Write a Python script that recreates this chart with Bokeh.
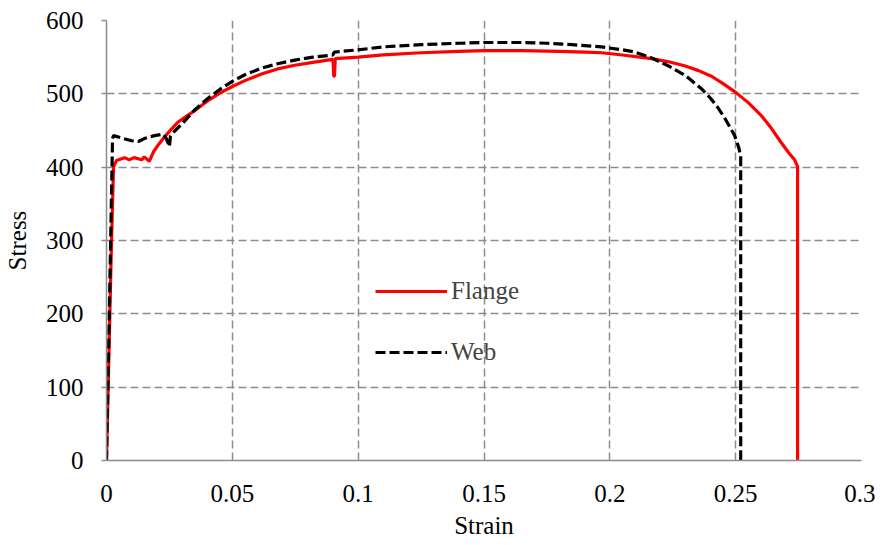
from bokeh.plotting import figure
from bokeh.models import Range1d, FixedTicker, Legend, LegendItem
from bokeh.embed import file_html
from bokeh.resources import INLINE

flange_strain = [0, 0.001, 0.002, 0.0028, 0.004, 0.0072, 0.009, 0.011, 0.014, 0.015, 0.017,
                 0.0187, 0.0207, 0.023, 0.0258, 0.0286, 0.032, 0.035, 0.04, 0.045, 0.05,
                 0.055, 0.0616, 0.068, 0.0748, 0.082, 0.09, 0.0903, 0.0906, 0.0909,
                 0.1, 0.11, 0.125, 0.14, 0.15, 0.165, 0.18, 0.19, 0.1967, 0.205, 0.2166,
                 0.223, 0.23, 0.235, 0.2404, 0.245, 0.25, 0.255, 0.26, 0.2642, 0.268,
                 0.271, 0.2734, 0.2746, 0.2746]
flange_stress = [0, 150, 300, 401, 409, 413, 410, 413, 410, 414, 408,
                 421, 431, 441, 452, 462, 470, 477, 490, 501, 510,
                 518, 527, 534, 539, 543, 547, 524, 524, 548,
                 550, 553, 556, 558, 559, 559, 558, 557, 556, 553, 548,
                 544, 538, 532, 524, 514, 502, 488, 471, 453, 434,
                 420, 410, 401, 0]

web_strain = [0, 0.001, 0.0024, 0.0028, 0.0068, 0.01, 0.0127, 0.015, 0.019, 0.0226, 0.0238,
              0.025, 0.0254, 0.027, 0.03, 0.035, 0.04, 0.045, 0.05, 0.055, 0.0616,
              0.068, 0.0748, 0.082, 0.09, 0.0905, 0.1, 0.11, 0.125, 0.14, 0.15,
              0.165, 0.175, 0.185, 0.1967, 0.205, 0.21, 0.2166, 0.2233, 0.23, 0.2364,
              0.24, 0.243, 0.246, 0.2496, 0.2512, 0.252, 0.252]
web_stress = [0, 180, 439, 443, 439, 436, 435, 439, 443, 445, 439,
              428, 442, 449, 459, 478, 493, 506, 517, 526, 535,
              541, 546, 550, 553, 557, 560, 564, 567, 569, 570,
              570, 569, 567, 564, 560, 557, 549, 538, 525, 507,
              494, 481, 465, 443, 427, 415, 0]

x_ticks = [0, 0.05, 0.1, 0.15, 0.2, 0.25, 0.3]
x_tick_labels = ["0", "0.05", "0.1", "0.15", "0.2", "0.25", "0.3"]
y_ticks = [0, 100, 200, 300, 400, 500, 600]

FONT = "'Liberation Serif', 'Times New Roman', serif"
GRAY = "#8c8c8c"

p = figure(frame_width=755, frame_height=440, output_backend="svg", toolbar_location=None,
           x_range=Range1d(0, 0.3), y_range=Range1d(0, 600),
           min_border_left=97, min_border_right=14, min_border_top=20, min_border_bottom=69)
p.outline_line_color = None
p.background_fill_color = "white"

r_f = p.line(flange_strain, flange_stress, line_color="#ff0000", line_width=3.2)
r_w = p.line(web_strain, web_stress, line_color="black", line_width=3.2, line_dash="10 4")

p.xaxis.ticker = FixedTicker(ticks=x_ticks)
p.yaxis.ticker = FixedTicker(ticks=y_ticks)
p.xaxis.major_label_overrides = {t: l for t, l in zip(x_ticks, x_tick_labels)}

for ax in (p.xaxis[0], p.yaxis[0]):
    ax.axis_line_color = GRAY
    ax.axis_line_width = 1.5
    ax.minor_tick_line_color = None
    ax.major_label_text_font = FONT
    ax.major_label_text_font_size = "25px"
    ax.major_label_text_color = "black"
    ax.axis_label_text_font = FONT
    ax.axis_label_text_font_size = "25px"
    ax.axis_label_text_font_style = "normal"
    ax.axis_label_text_color = "black"

p.xaxis.major_tick_line_color = None
p.xaxis.major_label_standoff = 18
p.xaxis.axis_label = "Strain"
p.xaxis.axis_label_standoff = 7

p.yaxis.major_tick_line_color = GRAY
p.yaxis.major_tick_line_width = 1.5
p.yaxis.major_tick_in = 0
p.yaxis.major_tick_out = 5
p.yaxis.major_label_standoff = 18
p.yaxis.axis_label = "Stress"
p.yaxis.axis_label_standoff = 12

for g in (p.xgrid[0], p.ygrid[0]):
    g.grid_line_color = GRAY
    g.grid_line_width = 1.5
    g.grid_line_dash = "8 4"

legend = Legend(items=[LegendItem(label="Flange", renderers=[r_f]),
                       LegendItem(label="Web", renderers=[r_w])],
                location=(269, 93))
legend.border_line_color = None
legend.background_fill_alpha = 0
legend.label_text_font = FONT
legend.label_text_font_size = "25px"
legend.glyph_width = 72
legend.glyph_height = 30
legend.label_height = 30
legend.label_standoff = 4
legend.spacing = 31
legend.padding = 10
p.add_layout(legend, "center")

open("out.html", "w").write(file_html(p, INLINE))
